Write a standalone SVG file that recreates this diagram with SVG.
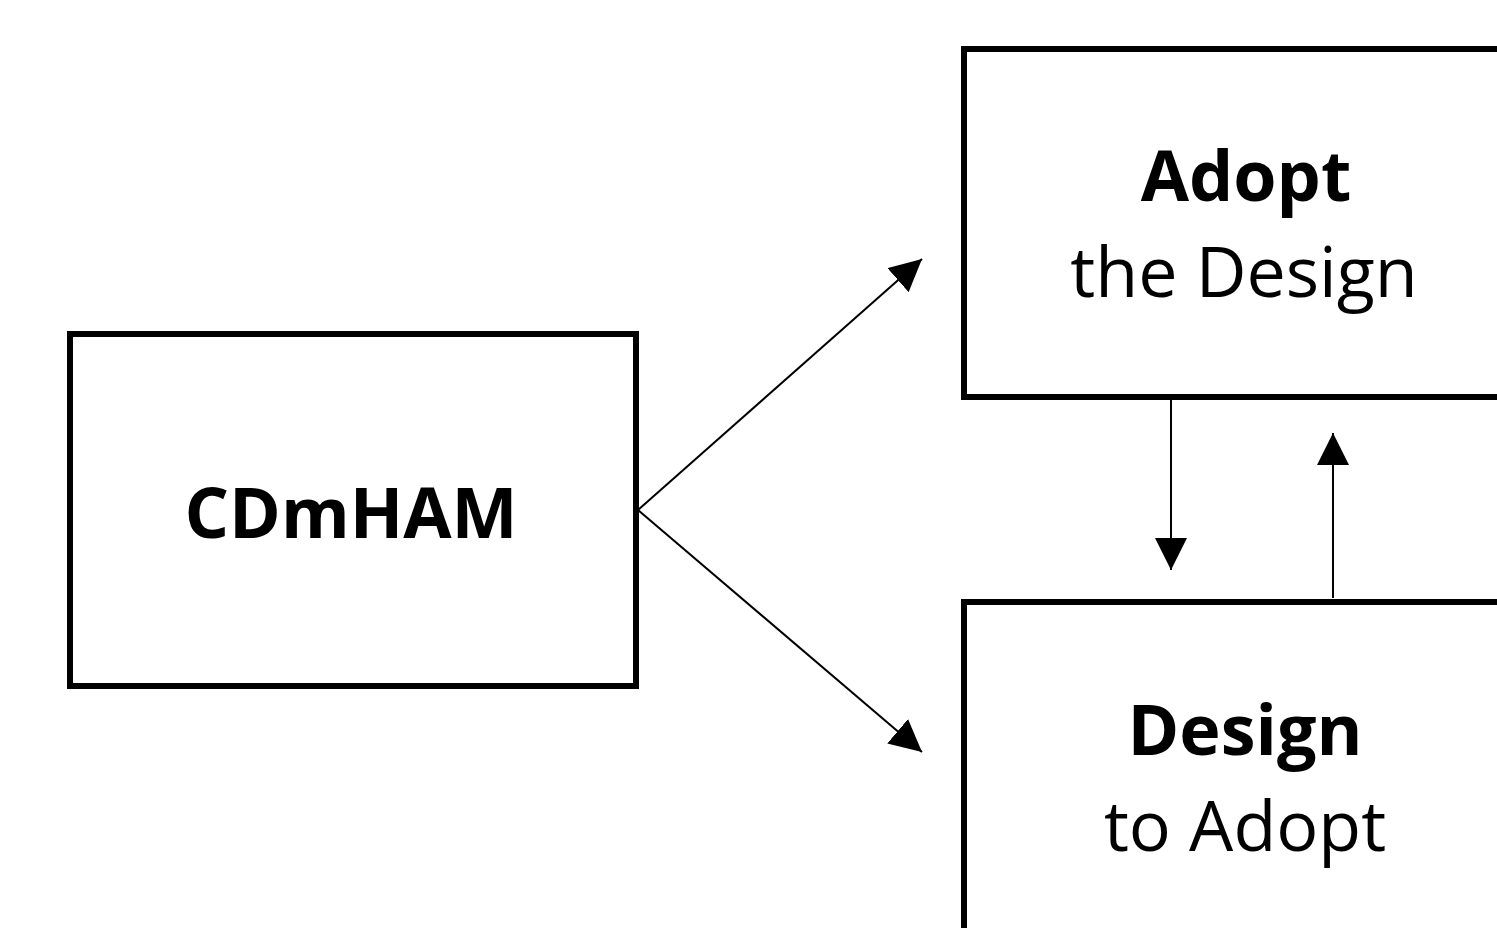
<svg xmlns="http://www.w3.org/2000/svg" width="1497" height="928" viewBox="0 0 1497 928">
<style>
.box{fill:#fff;stroke:#000;stroke-width:6}
.conn{stroke:#000;stroke-width:2;fill:none}
text{font-family:"Open Sans","Noto Sans",sans-serif;font-size:70px;fill:#000;text-anchor:middle}
.b{font-weight:bold}
</style>
<defs>
<marker id="ah" markerUnits="userSpaceOnUse" markerWidth="32" markerHeight="32" viewBox="0 0 30 30" refX="30" refY="15" orient="auto">
<path d="M0,0 L30,15 L0,30 Z" fill="#000"/>
</marker>
</defs>
<rect width="1497" height="928" fill="#fff"/>
<g id="connectors">
<line class="conn" x1="638" y1="510" x2="922" y2="259" marker-end="url(#ah)"/>
<line class="conn" x1="638" y1="510" x2="922" y2="752" marker-end="url(#ah)"/>
<line class="conn" x1="1171" y1="400" x2="1171" y2="570" marker-end="url(#ah)"/>
<line class="conn" x1="1333" y1="598" x2="1333" y2="433" marker-end="url(#ah)"/>
</g>
<g id="cdmham">
<rect class="box" x="70" y="334" width="566" height="352"/>
<text class="b" x="351" y="538">CDmHAM</text>
</g>
<g id="adopt">
<rect class="box" x="964" y="49" width="560" height="348"/>
<text class="b" x="1246" y="201">Adopt</text>
<text x="1244" y="297">the Design</text>
</g>
<g id="design">
<rect class="box" x="964" y="602" width="560" height="360"/>
<text class="b" x="1245" y="755">Design</text>
<text x="1245" y="851">to Adopt</text>
</g>
</svg>
